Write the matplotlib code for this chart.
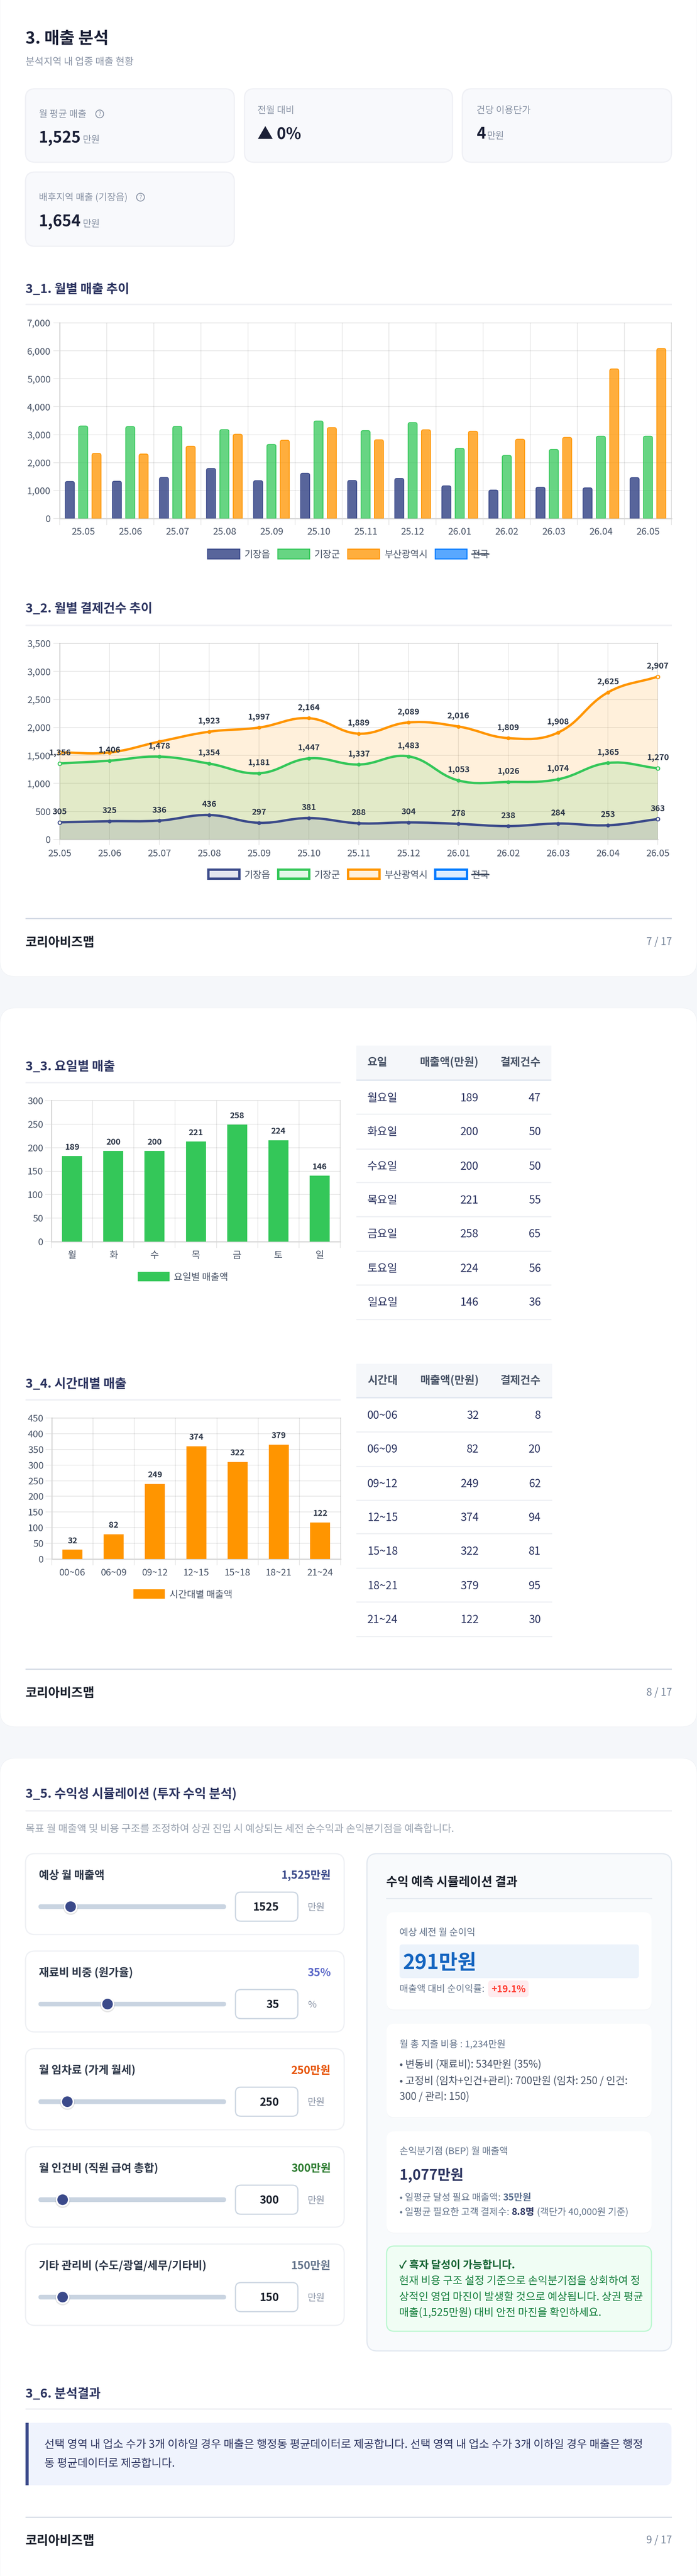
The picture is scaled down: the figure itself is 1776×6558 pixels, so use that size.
import matplotlib
matplotlib.use("Agg")
import matplotlib.pyplot as plt
from matplotlib.patches import FancyBboxPatch, Rectangle, Circle, PathPatch
from matplotlib.path import Path
from matplotlib.colors import to_rgba

plt.rcParams['font.family'] = ['Noto Sans CJK KR', 'DejaVu Sans']

# ---------- data ----------
months = ['25.05', '25.06', '25.07', '25.08', '25.09', '25.10', '25.11', '25.12', '26.01', '26.02', '26.03', '26.04', '26.05']
series_names = ['기장읍', '기장군', '부산광역시', '전국']
sales_eup = [1325, 1333, 1469, 1791, 1354, 1619, 1361, 1433, 1168, 1017, 1118, 1096, 1462]
sales_gun = [3310, 3289, 3296, 3181, 2651, 3489, 3145, 3432, 2508, 2257, 2472, 2945, 2945]
sales_busan = [2329, 2307, 2587, 3016, 2801, 3253, 2816, 3174, 3124, 2837, 2902, 5352, 6083]
count_eup = [305, 325, 336, 436, 297, 381, 288, 304, 278, 238, 284, 253, 363]
count_gun = [1356, 1406, 1478, 1354, 1181, 1447, 1337, 1483, 1053, 1026, 1074, 1365, 1270]
count_busan = [1553, 1553, 1746, 1923, 1997, 2164, 1889, 2089, 2016, 1809, 1908, 2625, 2907]
dow_short = ['월', '화', '수', '목', '금', '토', '일']
dow_names = ['월요일', '화요일', '수요일', '목요일', '금요일', '토요일', '일요일']
dow_revenue = [189, 200, 200, 221, 258, 224, 146]
dow_bar_height = [182, 193, 193, 213, 249, 216, 140]
dow_count = [47, 50, 50, 55, 65, 56, 36]
time_names = ['00~06', '06~09', '09~12', '12~15', '15~18', '18~21', '21~24']
time_revenue = [32, 82, 249, 374, 322, 379, 122]
time_bar_height = [30, 79, 240, 360, 310, 365, 117]
time_count = [8, 20, 62, 94, 81, 95, 30]

W, H = 1776, 6558
NAVY, GREEN, ORANGE, BLUE = '#3b4a8a', '#34c759', '#ff9500', '#007aff'
PAGE = '#f5f7fa'
INK, HEAD, GRAY, TICK = '#1a1f36', '#2d3561', '#8a94a6', '#4a5568'
GRID = (0, 0, 0, 0.09)

fig = plt.figure(figsize=(W / 100, H / 100), dpi=100, facecolor=PAGE)
bg = fig.add_axes([0, 0, 1, 1], zorder=0)
bg.set_xlim(0, W)
bg.set_ylim(H, 0)
bg.axis('off')


def pt(px):
    return px * 0.72


def T(x, yc, s, size=24, color=TICK, weight='normal', ha='left', z=5):
    return bg.text(x, yc + 0.36 * size, s, fontsize=pt(size), color=color, fontweight=weight,
                   ha=ha, va='baseline', zorder=z)


def box(x0, y0, x1, y1, r=0, fc='white', ec='none', lw=0, z=1, alpha=None):
    p = FancyBboxPatch((x0, y0), x1 - x0, y1 - y0, boxstyle=f"round,pad=0,rounding_size={r}",
                       fc=fc, ec=ec, lw=pt(lw), zorder=z, alpha=alpha)
    bg.add_patch(p)
    return p


def hline(x0, x1, y, color='#f0f1f5', th=4, z=2):
    bg.add_patch(Rectangle((x0, y - th / 2), x1 - x0, th, fc=color, ec='none', zorder=z))


def section(y_title, y_line, s, x1=1712):
    T(65, y_title, s, 32, HEAD, 'bold')
    hline(65, x1, y_line)


def footer(y_line, y_text, page):
    hline(65, 1712, y_line, '#d5dbe5', 3)
    T(65, y_text, '코리아비즈맵', 32, '#1a202c', 'bold')
    T(1712, y_text, page, 26, '#718096', ha='right')


def runs(x, yc, items, size=24):
    r = fig.canvas.get_renderer()
    for s, color, weight, gap in items:
        t = T(x, yc, s, size, color, weight)
        x = t.get_window_extent(r).x1 + gap


def chart_axes(x0, y_top, x1, y0):
    ax = fig.add_axes([x0 / W, 1 - y0 / H, (x1 - x0) / W, (y0 - y_top) / H], zorder=2)
    ax.patch.set_alpha(0)
    for k in ('top', 'right'):
        ax.spines[k].set_color(GRID)
        ax.spines[k].set_linewidth(pt(2))
    for k in ('left', 'bottom'):
        ax.spines[k].set_color('#d8d8d8')
        ax.spines[k].set_linewidth(pt(3))
    ax.grid(True, color='black', alpha=0.09, linewidth=pt(2))
    ax.set_axisbelow(True)
    return ax


def round_top(rect, px_w, px_h, r=5):
    rx = min(r / px_w, 0.5)
    ry = min(r / max(px_h, 1), 1)
    verts = [(0, 0), (1, 0), (1, 1 - ry), (1, 1), (1 - rx, 1), (rx, 1), (0, 1), (0, 1 - ry), (0, 0)]
    codes = [Path.MOVETO, Path.LINETO, Path.LINETO, Path.CURVE3, Path.CURVE3, Path.LINETO,
             Path.CURVE3, Path.CURVE3, Path.CLOSEPOLY]
    pth = Path(verts, codes)
    rect.get_path = lambda: pth


# ---------- page cards ----------
box(0, -80, W, 2486, 40, 'white', '#eef0f4', 1)
box(0, 2566, W, 4396, 40, 'white', '#eef0f4', 1)
box(0, 4476, W, H + 80, 40, 'white', '#eef0f4', 1)

# ---------- header ----------
T(65, 96, '3. 매출 분석', 42, INK, 'bold')
T(65, 156, '분석지역 내 업종 매출 현황', 25, GRAY)


def stat(x0, y0, x1, y1):
    box(x0, y0, x1, y1, 24, '#f8f9fc', '#eff0f5', 3)


def qmark(x, y):
    bg.add_patch(Circle((x, y), 10, fc='none', ec=GRAY, lw=pt(2.2), zorder=5))
    T(x, y, '?', 15, GRAY, ha='center')


stat(65, 226, 597, 413)
T(99, 289, '월 평균 매출', 24, GRAY)
qmark(254, 290)
T(99, 349, '1,525', 40, INK, 'bold')
T(211, 354, '만원', 24, GRAY)
stat(623, 226, 1153, 413)
T(656, 279, '전월 대비', 24, GRAY)
T(656, 339, '▲ 0%', 40, INK, 'bold')
stat(1178, 226, 1711, 413)
T(1214, 279, '건당 이용단가', 24, GRAY)
T(1214, 339, '4', 40, INK, 'bold')
T(1241, 344, '만원', 24, GRAY)
stat(65, 438, 597, 627)
T(99, 501, '배후지역 매출 (기장읍)', 24, GRAY)
qmark(358, 502)
T(99, 562, '1,654', 40, INK, 'bold')
T(211, 568, '만원', 24, GRAY)

# ---------- 3_1 monthly sales ----------
section(734, 775, '3_1. 월별 매출 추이')
ax = chart_axes(152, 822, 1711, 1320)
n = len(months)
slot_px = (1711 - 152) / n
bar_w = 23 / slot_px
step = 34 / slot_px
px_per_unit = (1320 - 822) / 7000
for off, vals, col, al in ((-step, sales_eup, NAVY, 0.85), (0, sales_gun, GREEN, 0.75), (step, sales_busan, ORANGE, 0.76)):
    bars = ax.bar([i + 0.5 + off for i in range(n)], vals, bar_w,
                  facecolor=to_rgba(col, al), edgecolor=col, linewidth=pt(2), zorder=3)
    for b, v in zip(bars, vals):
        round_top(b, 23, v * px_per_unit)
ax.set_xlim(0, n)
ax.set_ylim(0, 7000)
ax.set_yticks(range(0, 7001, 1000), [f'{v:,}' for v in range(0, 7001, 1000)])
ax.set_xticks(range(n + 1), [''] * (n + 1))
ax.set_xticks([i + 0.5 for i in range(n)], months, minor=True)
ax.tick_params(axis='x', which='major', length=pt(17), width=pt(2), color=GRID)
ax.tick_params(axis='x', which='minor', length=0, pad=pt(23), labelsize=pt(24), labelcolor=TICK)
ax.tick_params(axis='y', length=pt(16), width=pt(2), color=GRID, pad=pt(7), labelsize=pt(24), labelcolor=TICK)

legend1 = [(529, 611, 623), (708, 789, 801), (886, 967, 980), (1109, 1190, 1202)]
for (a, b, tx), name, col, al in zip(legend1, series_names, (NAVY, GREEN, ORANGE, BLUE), (0.85, 0.75, 0.76, 0.65)):
    bg.add_patch(Rectangle((a, 1398), b - a, 25, fc=to_rgba(col, al), ec=col, lw=pt(2.5), zorder=3))
    T(tx, 1410, name, 24, TICK)
bg.plot([1202, 1245], [1410, 1410], color=TICK, lw=pt(3), zorder=6)

# ---------- 3_2 monthly counts ----------
section(1547, 1592, '3_2. 월별 결제건수 추이')
ax = chart_axes(152, 1638, 1676, 2137)
sx = (1676 - 152) / (n - 1)
sy = (2137 - 1638) / 3500


def spline_path(vals, t=0.4):
    P = [(i * sx, v * sy) for i, v in enumerate(vals)]
    cp = []
    for i, c in enumerate(P):
        p = P[i - 1] if i > 0 else c
        q = P[i + 1] if i < len(P) - 1 else c
        d01 = ((c[0] - p[0]) ** 2 + (c[1] - p[1]) ** 2) ** 0.5
        d12 = ((q[0] - c[0]) ** 2 + (q[1] - c[1]) ** 2) ** 0.5
        tot = (d01 + d12) or 1
        fa, fb = t * d01 / tot, t * d12 / tot
        cp.append(((c[0] - fa * (q[0] - p[0]), c[1] - fa * (q[1] - p[1])),
                   (c[0] + fb * (q[0] - p[0]), c[1] + fb * (q[1] - p[1]))))
    verts = [P[0]]
    codes = [Path.MOVETO]
    for i in range(len(P) - 1):
        verts += [cp[i][1], cp[i + 1][0], P[i + 1]]
        codes += [Path.CURVE4] * 3
    return [(x / sx, y / sy) for x, y in verts], codes


for vals, col, z in ((count_busan, ORANGE, 3), (count_gun, GREEN, 4), (count_eup, NAVY, 5)):
    verts, codes = spline_path(vals)
    ax.add_patch(PathPatch(Path(verts + [(n - 1, 0), (0, 0), (0, 0)],
                                codes + [Path.LINETO, Path.LINETO, Path.CLOSEPOLY]),
                           fc=to_rgba(col, 0.14), ec='none', zorder=z))
    ax.add_patch(PathPatch(Path(verts, codes), fc='none', ec=col, lw=pt(6), zorder=z + 3, capstyle='round'))
    ax.plot(range(1, n - 1), vals[1:-1], 'o', color=col, ms=pt(10), mew=0, zorder=z + 4)
    ax.plot([0, n - 1], [vals[0], vals[-1]], 'o', mfc='#f4f4ee', mec=col, ms=pt(9), mew=pt(2.5),
            zorder=z + 4, clip_on=False)
    for i, v in enumerate(vals):
        if col == ORANGE and i < 3:
            continue
        ax.annotate(f'{v:,}', (i, v), xytext=(0, pt(27)), textcoords='offset points', ha='center',
                    va='center', fontsize=pt(21), fontweight='bold', color='#2d3748', zorder=12,
                    annotation_clip=False)
ax.set_xlim(0, n - 1)
ax.set_ylim(0, 3500)
ax.set_yticks(range(0, 3501, 500), [f'{v:,}' for v in range(0, 3501, 500)])
ax.set_xticks(range(n), months)
ax.tick_params(axis='x', length=pt(14), width=pt(2), color=GRID, pad=pt(11), labelsize=pt(24), labelcolor=TICK)
ax.tick_params(axis='y', length=pt(16), width=pt(2), color=GRID, pad=pt(7), labelsize=pt(24), labelcolor=TICK)

legend2 = [(531, 610, 623), (709, 788, 801), (887, 967, 980), (1109, 1190, 1202)]
for (a, b, tx), name, col in zip(legend2, series_names, (NAVY, GREEN, ORANGE, BLUE)):
    bg.add_patch(Rectangle((a, 2214), b - a, 23, fc=to_rgba(col, 0.14), ec=col, lw=pt(6), zorder=3))
    T(tx, 2226, name, 24, TICK)
bg.plot([1202, 1245], [2226, 2226], color=TICK, lw=pt(3), zorder=6)
footer(2338, 2397, '7 / 17')


# ---------- 3_3 / 3_4 bar + table ----------
def small_bars(rect, names, heights, labels, ymax, ystep, col):
    x0, y_top, x1, y0 = rect
    ax = chart_axes(x0, y_top, x1, y0)
    m = len(names)
    ax.bar([i + 0.5 for i in range(m)], heights, 51 / ((x1 - x0) / m), color=col, zorder=3)
    for i, (h, v) in enumerate(zip(heights, labels)):
        ax.annotate(str(v), (i + 0.5, h), xytext=(0, pt(23)), textcoords='offset points', ha='center',
                    va='center', fontsize=pt(21), fontweight='bold', color='#2d3748', zorder=10)
    ax.set_xlim(0, m)
    ax.set_ylim(0, ymax)
    ax.set_yticks(range(0, ymax + 1, ystep))
    ax.set_xticks(range(m + 1), [''] * (m + 1))
    ax.set_xticks([i + 0.5 for i in range(m)], names, minor=True)
    ax.tick_params(axis='x', which='major', length=pt(16), width=pt(2), color=GRID)
    ax.tick_params(axis='x', which='minor', length=0, pad=pt(24), labelsize=pt(24), labelcolor=TICK)
    ax.tick_params(axis='y', length=pt(16), width=pt(2), color=GRID, pad=pt(5), labelsize=pt(24), labelcolor=TICK)


def table(x0, x1, head_top, head_bot, head_y, first, rows, dividers, centers, cols):
    bg.add_patch(Rectangle((x0, head_top), x1 - x0, head_bot - head_top, fc=PAGE, ec='none', zorder=2))
    hline(x0, x1, head_bot + 2, '#e2e8f0', 4)
    T(cols[0], head_y, first, 28, TICK, 'bold')
    T(cols[1], head_y, '매출액(만원)', 28, TICK, 'bold', ha='right')
    T(cols[2], head_y, '결제건수', 28, TICK, 'bold', ha='right')
    for (a, b, c), d, y in zip(rows, dividers, centers):
        T(cols[0], y, a, 28, HEAD)
        T(cols[1], y, str(b), 28, HEAD, ha='right')
        T(cols[2], y, str(c), 28, HEAD, ha='right')
        hline(x0, x1, d, '#eef0f4', 3)


section(2713, 2756, '3_3. 요일별 매출', 868)
small_bars((131, 2802, 867, 3161), dow_short, dow_bar_height, dow_revenue, 300, 50, GREEN)
bg.add_patch(Rectangle((351, 3238), 81, 24, fc=GREEN, ec='none', zorder=3))
T(443, 3250, '요일별 매출액', 24, TICK)
table(908, 1405, 2662, 2748, 2703, '요일', list(zip(dow_names, dow_revenue, dow_count)),
      [2836.5, 2925, 3010.5, 3097.5, 3185, 3271.5, 3359], [2794, 2880, 2968, 3054, 3140, 3228, 3314],
      (936, 1219, 1378))

section(3521, 3564, '3_4. 시간대별 매출', 868)
small_bars((132, 3610, 868, 3969), time_names, time_bar_height, time_revenue, 450, 50, ORANGE)
bg.add_patch(Rectangle((340, 4046), 80, 24, fc=ORANGE, ec='none', zorder=3))
T(432, 4058, '시간대별 매출액', 24, TICK)
table(908, 1407, 3472, 3556, 3513, '시간대', list(zip(time_names, time_revenue, time_count)),
      [3645, 3733, 3819, 3904.5, 3992.5, 4078.5, 4166.5], [3602, 3688, 3776, 3862, 3948, 4036, 4122],
      (936, 1220, 1378))
footer(4249, 4308, '8 / 17')

# ---------- 3_5 simulation ----------
section(4565, 4610, '3_5. 수익성 시뮬레이션 (투자 수익 분석)')
T(65, 4655, '목표 월 매출액 및 비용 구조를 조정하여 상권 진입 시 예상되는 세전 순수익과 손익분기점을 예측합니다.', 26, '#9aa3b0')

slider_labels = ['예상 월 매출액', '재료비 비중 (원가율)', '월 임차료 (가게 월세)', '월 인건비 (직원 급여 총합)', '기타 관리비 (수도/광열/세무/기타비)']
slider_shown = ['1,525만원', '35%', '250만원', '300만원', '150만원']
slider_inputs = ['1525', '35', '250', '300', '150']
slider_units = ['만원', '%', '만원', '만원', '만원']
slider_colors = [NAVY, '#5a67c8', '#e65100', '#2e7d32', '#64748b']
slider_tops = [4719, 4967, 5215.5, 5465, 5713]
slider_bottoms = [4925, 5173, 5422, 5670, 5920]
slider_thumbs = [180, 274, 171.6, 159.6, 159.6]
for lab, shown, val, unit, col, top, bot, th in zip(slider_labels, slider_shown, slider_inputs, slider_units,
                                                     slider_colors, slider_tops, slider_bottoms, slider_thumbs):
    box(65, top, 877, bot, 24, 'white', '#eef0f4', 3)
    T(99, top + 54, lab, 28, '#2d3748', 'bold')
    T(843, top + 54, shown, 28, col, 'bold', ha='right')
    yc = top + 135
    box(98, yc - 6, 576, yc + 6, 6, '#c9d4e1', z=3)
    bg.add_patch(Circle((th, yc + 2), 19, fc=(0, 0, 0, 0.10), ec='none', zorder=4))
    bg.add_patch(Circle((th, yc), 17.5, fc='white', ec='none', zorder=4))
    bg.add_patch(Circle((th, yc), 13.5, fc=NAVY, ec='none', zorder=5))
    box(600, top + 98, 759, top + 172, 14, 'white', '#cbd5e1', 3, z=3)
    T(711, yc, val, 28, '#1a202c', 'bold', ha='right')
    T(784, yc, unit, 24, GRAY)

box(935, 4719, 1711, 5985, 26, '#f8fafc', '#e2e8f0', 3)
T(984, 4790, '수익 예측 시뮬레이션 결과', 31, '#1a202c', 'bold')
hline(984, 1662, 4833, '#e2e8f0', 3)
for a, b in ((4868, 5116), (5152, 5390), (5426, 5684)):
    box(985, a + 2, 1660, b + 2, 20, (0, 0, 0, 0.02), z=2)
    box(985, a, 1660, b, 20, 'white', z=3)
SUB = '#64748b'
T(1018, 4918, '예상 세전 월 순이익', 24, SUB)
box(1018, 4950, 1628, 5036, 8, '#ecf3fb', z=4)
T(1026, 4994, '291만원', 52, '#1565c0', 'bold')
T(1018, 5062, '매출액 대비 순이익률:', 24, SUB)
box(1244, 5042, 1347, 5084, 8, '#ffebee', z=4)
T(1295.5, 5063, '+19.1%', 24, '#ff3b30', 'bold', ha='center')
T(1018, 5203, '월 총 지출 비용 : 1,234만원', 24, SUB)
T(1018, 5254, '• 변동비 (재료비): 534만원 (35%)', 26, TICK)
T(1018, 5296, '• 고정비 (임차+인건+관리): 700만원 (임차: 250 / 인건:', 26, TICK)
T(1018, 5336, '300 / 관리: 150)', 26, TICK)
T(1018, 5476, '손익분기점 (BEP) 월 매출액', 24, SUB)
T(1018, 5536, '1,077만원', 36, HEAD, 'bold')
runs(1018, 5593, [('• 일평균 달성 필요 매출액:', SUB, 'normal', 6), ('35만원', '#5a6f8f', 'bold', 0)])
runs(1018, 5630, [('• 일평균 필요한 고객 결제수:', SUB, 'normal', 6), ('8.8명', HEAD, 'bold', 6),
                  ('(객단가 40,000원 기준)', SUB, 'normal', 0)])
box(985, 5718, 1660, 5935, 20, '#f0fdf4', '#bbf7d0', 3, z=3)
T(1017, 5765, '✓ 흑자 달성이 가능합니다.', 27, '#166534', 'bold')
T(1017, 5805, '현재 비용 구조 설정 기준으로 손익분기점을 상회하여 정', 27, '#15803d')
T(1017, 5846, '상적인 영업 마진이 발생할 것으로 예상됩니다. 상권 평균', 27, '#15803d')
T(1017, 5887, '매출(1,525만원) 대비 안전 마진을 확인하세요.', 27, '#15803d')

# ---------- 3_6 ----------
section(6092, 6133, '3_6. 분석결과')
box(65, 6168, 1711, 6327, 16, '#eff3fd')
bg.add_patch(Rectangle((65, 6168), 30, 159, fc='#eff3fd', ec='none', zorder=2))
bg.add_patch(Rectangle((65, 6168), 8, 159, fc=NAVY, ec='none', zorder=3))
T(113, 6222, '선택 영역 내 업소 수가 3개 이하일 경우 매출은 행정동 평균데이터로 제공합니다. 선택 영역 내 업소 수가 3개 이하일 경우 매출은 행정', 28.3, HEAD)
T(113, 6270, '동 평균데이터로 제공합니다.', 28.3, HEAD)
footer(6408, 6466, '9 / 17')

fig.savefig('out.png', dpi=100, facecolor=PAGE)
